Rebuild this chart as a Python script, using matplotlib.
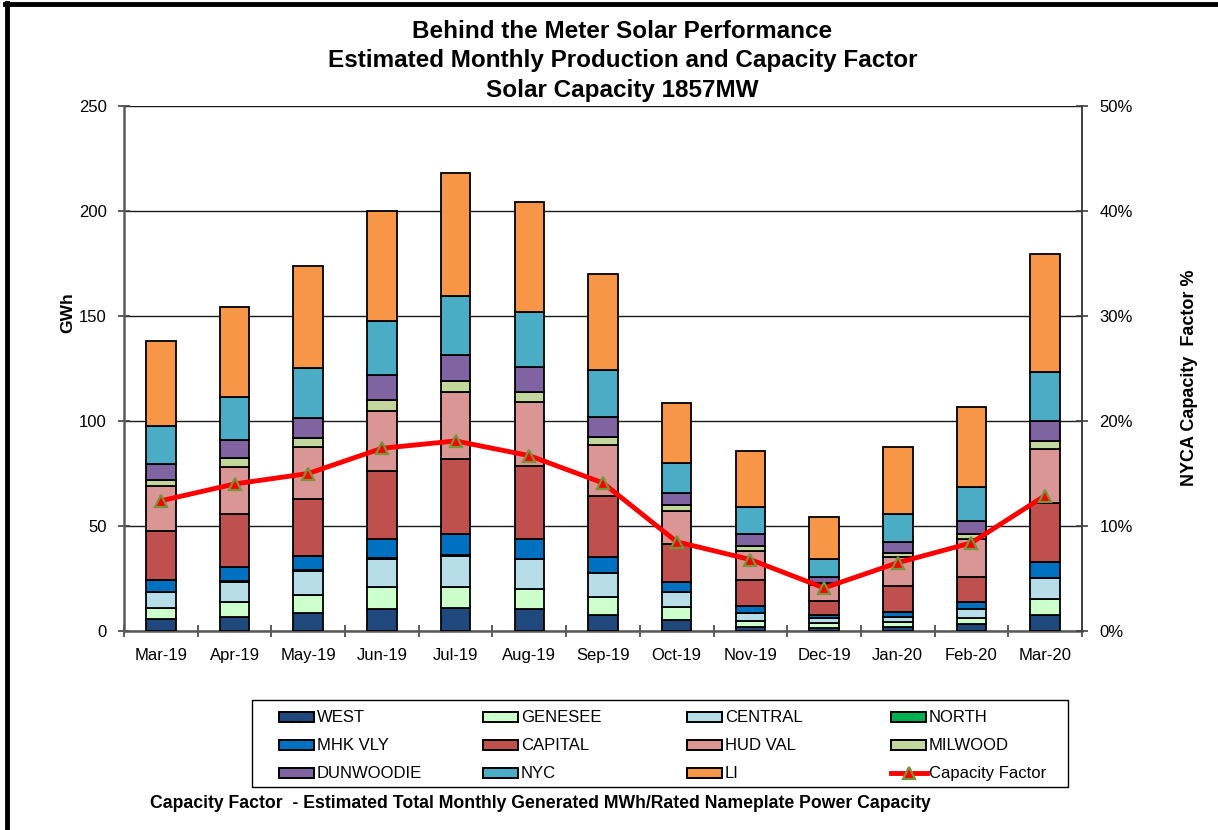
"""Behind-the-meter solar: monthly production by zone (stacked) + capacity factor line."""
import numpy as np
import matplotlib
matplotlib.use("Agg")
import matplotlib.pyplot as plt
from matplotlib.lines import Line2D
from matplotlib.patches import Rectangle

months = ["Mar-19", "Apr-19", "May-19", "Jun-19", "Jul-19", "Aug-19", "Sep-19",
          "Oct-19", "Nov-19", "Dec-19", "Jan-20", "Feb-20", "Mar-20"]

# GWh per zone
west      = [5.7, 6.8, 8.4, 10.3, 10.8, 10.5, 7.6, 5.2, 2.1, 1.6, 2.1, 3.3, 7.6]
genesee   = [5.4, 6.9, 8.7, 10.8, 10.3, 9.7, 8.7, 6.4, 2.7, 2.4, 2.2, 3.0, 7.6]
central   = [7.3, 9.6, 11.5, 13.3, 14.8, 13.9, 11.2, 6.8, 3.6, 2.0, 2.5, 4.0, 9.9]
north     = [0.3, 0.3, 0.3, 0.3, 0.3, 0.3, 0.3, 0.2, 0.1, 0.1, 0.1, 0.1, 0.3]
mhk_vly   = [5.6, 6.9, 7.0, 9.1, 9.8, 9.6, 7.6, 4.9, 3.4, 1.5, 2.3, 3.6, 7.6]
capital   = [23.3, 25.1, 27.0, 32.4, 35.9, 34.6, 28.7, 17.8, 12.4, 6.7, 12.4, 11.9, 28.1]
hud_val   = [21.4, 22.7, 24.9, 28.7, 31.7, 30.3, 24.5, 16.0, 14.0, 7.6, 13.8, 17.8, 25.4]
milwood   = [3.0, 3.9, 4.3, 4.9, 5.4, 4.7, 3.9, 2.5, 2.3, 0.8, 1.7, 2.3, 4.0]
dunwoodie = [7.4, 8.8, 9.5, 11.9, 12.4, 12.3, 9.6, 5.8, 5.4, 3.2, 5.4, 6.5, 9.5]
nyc       = [18.1, 20.6, 23.5, 25.8, 28.0, 26.2, 22.2, 14.6, 13.2, 8.4, 13.1, 15.9, 23.5]
li        = [40.7, 42.7, 48.9, 52.5, 58.8, 52.3, 45.7, 28.5, 26.5, 20.1, 31.9, 38.1, 55.9]

cap_factor = [12.4, 14.0, 15.0, 17.4, 18.1, 16.7, 14.1, 8.5, 6.8, 4.1, 6.5, 8.4, 12.9]  # %

zones = ["WEST", "GENESEE", "CENTRAL", "NORTH", "MHK VLY", "CAPITAL",
         "HUD VAL", "MILWOOD", "DUNWOODIE", "NYC", "LI"]
series = [west, genesee, central, north, mhk_vly, capital,
          hud_val, milwood, dunwoodie, nyc, li]
colors = ["#1F497D", "#CCFFCC", "#B7DEE8", "#00B050", "#0070C0", "#C0504D",
          "#D99694", "#C3D69B", "#8064A2", "#4BACC6", "#F79646"]

CF_STYLE = dict(color="#FF0000", lw=3.5, marker="^", ms=8,
                mfc="#FF0000", mec="#77933C", mew=1.6)

plt.rcParams["font.family"] = ["Liberation Sans", "DejaVu Sans"]

W, H = 1218, 830
fig = plt.figure(figsize=(W / 100, H / 100), dpi=100)
ax = fig.add_axes([124 / W, 1 - 631 / H, 958 / W, 525 / H])

x = np.arange(len(months))
bottom = np.zeros(len(months))
for name, vals, col in zip(zones, series, colors):
    v = np.array(vals)
    ax.bar(x, v, 0.4, bottom=bottom, color=col, edgecolor="black",
           linewidth=1.3, zorder=3, label=name)
    bottom += v

ax.set_xlim(-0.5, len(months) - 0.5)
ax.set_ylim(0, 250)
ax.set_yticks(np.arange(0, 251, 50))
ax.set_xticks(x)
ax.set_xticklabels(months, fontsize=12)
ax.set_xticks(np.arange(-0.5, len(months), 1.0), minor=True)
ax.tick_params(axis="x", which="major", length=0, pad=12)
ax.tick_params(axis="x", which="minor", direction="inout", length=9, width=1.2, color="#404040")
ax.tick_params(axis="y", direction="inout", length=9, width=1.2, labelsize=12, pad=8, color="#404040")
ax.grid(axis="y", color="#1a1a1a", linewidth=1.0, zorder=0)
ax.set_axisbelow(True)
for s in ["left", "bottom"]:
    ax.spines[s].set_color("#595959")
    ax.spines[s].set_linewidth(1.8)
ax.spines["top"].set_visible(False)
ax.spines["right"].set_visible(False)
ax.set_ylabel("GWh", fontsize=12.5, fontweight="bold")
ax.yaxis.set_label_coords(-0.051, 0.606)

# capacity factor on the right axis
ax2 = ax.twinx()
ax2.set_ylim(0, 50)
ax2.set_yticks(np.arange(0, 51, 10))
ax2.set_yticklabels([f"{v}%" for v in range(0, 51, 10)])
ax2.tick_params(axis="y", direction="inout", length=9, width=1.2, labelsize=12, pad=8, color="#404040")
for s in ["left", "top", "bottom"]:
    ax2.spines[s].set_visible(False)
ax2.spines["right"].set_color("#404040")
ax2.spines["right"].set_linewidth(1.4)
ax2.plot(x, cap_factor, zorder=5, **CF_STYLE)
ax2.set_ylabel("NYCA Capacity  Factor %", fontsize=13, fontweight="bold")
ax2.yaxis.set_label_coords(1.103, 0.482)

# titles
for txt, yy in [("Behind the Meter Solar Performance", 31),
                ("Estimated Monthly Production and Capacity Factor", 61),
                ("Solar Capacity 1857MW", 91)]:
    fig.text(0.511, 1 - yy / H, txt, ha="center", va="center",
             fontsize=17.5, fontweight="bold")

# legend, laid out by hand: Excel uses equal-width columns, row-wise order
lx0, lx1, ly0, ly1 = 252, 1068, 700, 787
fig.add_artist(Rectangle((lx0 / W, 1 - ly1 / H), (lx1 - lx0) / W, (ly1 - ly0) / H,
                         transform=fig.transFigure, fc="white", ec="black", lw=1.0))
entries = list(zip(zones, colors)) + [("Capacity Factor", None)]
col_w = (lx1 - lx0) / 4
row_y = [717, 745, 773]
for i, (name, col) in enumerate(entries):
    r, c = divmod(i, 4)
    px = lx0 + 27 + c * col_w
    py = row_y[r]
    if col is None:
        fig.add_artist(Line2D([px / W, (px + 36) / W], [1 - py / H, 1 - py / H],
                              transform=fig.transFigure, color="#FF0000", lw=3.5))
        fig.add_artist(Line2D([(px + 18) / W], [1 - py / H], transform=fig.transFigure,
                              ls="", marker="^", ms=8, mfc="#FF0000", mec="#77933C", mew=1.6))
    else:
        fig.add_artist(Rectangle((px / W, 1 - (py + 5) / H), 35 / W, 10 / H,
                                 transform=fig.transFigure, fc=col, ec="black", lw=1.4))
    fig.text((px + 38) / W, 1 - py / H, name, ha="left", va="center", fontsize=12)

fig.text(150 / W, 1 - 803 / H,
         "Capacity Factor  - Estimated Total Monthly Generated MWh/Rated Nameplate Power Capacity",
         ha="left", va="center", fontsize=12.7, fontweight="bold")

# outer chart frame (only the left and top edges fall inside the image)
fig.add_artist(Line2D([6.5 / W, 6.5 / W], [0, 1 - 3 / H], transform=fig.transFigure,
                      color="black", lw=3.5))
fig.add_artist(Line2D([5 / W, 1], [1 - 4.5 / H, 1 - 4.5 / H], transform=fig.transFigure,
                      color="black", lw=3.5))

fig.savefig("out.png", dpi=100)
